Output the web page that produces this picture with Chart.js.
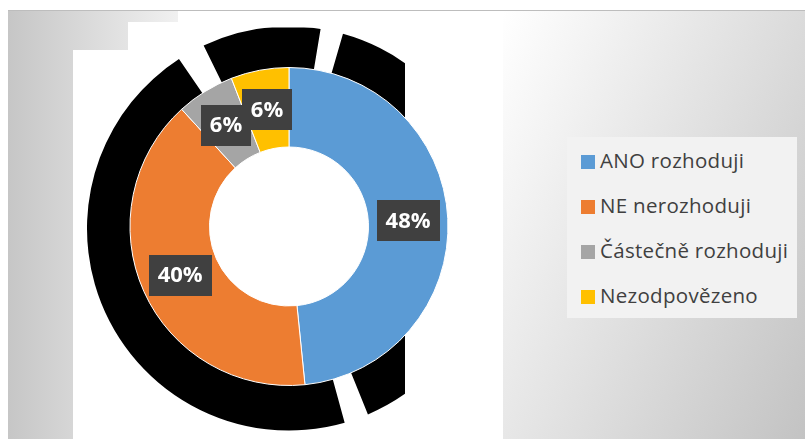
<!DOCTYPE html>
<html>
<head>
<meta charset="utf-8">
<script src="https://cdn.jsdelivr.net/npm/chart.js@4"></script>
<style>
    html, body { margin: 0; padding: 0; background: #fff; }
    #wrap { position: relative; width: 805px; height: 439px; overflow: hidden; background: #fff; }
    .blk { position: absolute; }
    #bg-left { left: 8px; top: 10px; width: 797px; height: 429px; border-top: 1px solid #bdbdbd;
        background: linear-gradient(90deg, #c6c6c6 0px, #f1f1f1 172px, #ffffff 260px); }
    #bg-right { left: 503px; top: 11px; width: 302px; height: 428px;
        background: linear-gradient(115deg, #ffffff 0%, #e4e4e4 45%, #c3c3c3 100%); }
    #chart { position: absolute; left: 0; top: 0; }
    #legend { position: absolute; left: 567px; top: 137px; width: 230px; height: 181px; background: #f2f2f2;
        font-family: "Open Sans", sans-serif; font-size: 20.5px; letter-spacing: 0.3px; color: #404040; }
    .item { position: absolute; left: 14px; height: 26px; line-height: 26px; white-space: nowrap; }
    .item i { display: inline-block; width: 14px; height: 14px; margin-right: 5px; vertical-align: -1px; }
</style>
</head>
<body>
<div id="wrap">
    <div class="blk" id="bg-left"></div>
    <div class="blk" style="left:178px;top:11px;width:325px;height:428px;background:#fff"></div>
    <div class="blk" style="left:128px;top:22px;width:60px;height:417px;background:#fff"></div>
    <div class="blk" style="left:73px;top:50px;width:60px;height:389px;background:#fff"></div>
    <div class="blk" id="bg-right"></div>
    <canvas id="chart" width="805" height="439"></canvas>
    <div id="legend"></div>
</div>
<script>
// data (podil v %)
const categories = ['ANO rozhoduji', 'NE nerozhoduji', 'Částečně rozhoduji', 'Nezodpovězeno'];
const values = [48.4, 39.8, 5.9, 5.9];
const colors = ['#5b9bd5', '#ed7d31', '#a5a5a5', '#ffc000'];

// legenda (HTML)
const legendEl = document.getElementById('legend');
legendEl.innerHTML = categories.map((c, i) =>
    `<div class="item" style="top:${10 + i * 45}px"><i style="background:${colors[i]}"></i>${c}</div>`
).join('');

// cerny "stin" za prstencem (s mezerami jako na predloze), uhly ve stupnich od vrcholu
const shadowGaps = [[-33, -25], [9, 15.5], [157, 164]];
const shadowRing = {
    id: 'shadowRing',
    beforeDatasetsDraw(chart) {
        const arc = chart.getDatasetMeta(0).data[0];
        if (!arc) return;
        const { x, y, outerRadius } = arc.getProps(['x', 'y', 'outerRadius'], true);
        const ctx = chart.ctx;
        const rad = d => (d - 90) * Math.PI / 180;
        ctx.save();
        ctx.beginPath();
        ctx.rect(x - outerRadius - 80, y - outerRadius - 40, outerRadius + 196, 2 * outerRadius + 90);
        ctx.clip();
        ctx.fillStyle = '#000';
        const edges = [];
        shadowGaps.forEach(g => edges.push(g));
        for (let i = 0; i < edges.length; i++) {
            const from = edges[i][1];
            const to = i + 1 < edges.length ? edges[i + 1][0] : edges[0][0] + 360;
            ctx.beginPath();
            ctx.arc(x, y + 2, outerRadius + 43, rad(from), rad(to));
            ctx.arc(x, y, outerRadius - 2, rad(to), rad(from), true);
            ctx.closePath();
            ctx.fill();
        }
        ctx.restore();
    }
};

// popisky s tmavym boxem
const boxLabels = {
    id: 'boxLabels',
    afterDatasetsDraw(chart) {
        const ctx = chart.ctx;
        const meta = chart.getDatasetMeta(0);
        ctx.save();
        ctx.font = 'bold 22px "Open Sans", sans-serif';
        ctx.textAlign = 'center';
        ctx.textBaseline = 'middle';
        meta.data.forEach((el, i) => {
            const pos = el.tooltipPosition(true);
            const txt = Math.round(values[i]) + '%';
            const w = ctx.measureText(txt).width + 18;
            const h = 41;
            ctx.fillStyle = '#404040';
            ctx.fillRect(Math.round(pos.x - w / 2), Math.round(pos.y - h / 2), Math.round(w), h);
            ctx.fillStyle = '#ffffff';
            ctx.fillText(txt, pos.x, pos.y + 1);
        });
        ctx.restore();
    }
};

new Chart(document.getElementById('chart'), {
    type: 'doughnut',
    data: {
        labels: categories,
        datasets: [{
            data: values,
            backgroundColor: colors,
            borderColor: '#ffffff',
            borderWidth: 1,
            hoverOffset: 0
        }]
    },
    options: {
        responsive: false,
        animation: false,
        cutout: '50%',
        layout: { padding: { top: 67, bottom: 53, left: 129, right: 356 } },
        plugins: {
            legend: { display: false },
            tooltip: { enabled: false }
        }
    },
    plugins: [shadowRing, boxLabels]
});
</script>
</body>
</html>
